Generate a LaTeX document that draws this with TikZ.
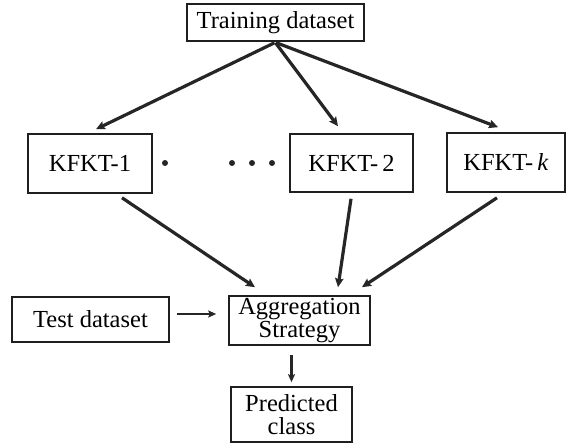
\documentclass[tikz,border=0pt]{standalone}
\usepackage{fontspec}
\setmainfont{Liberation Serif}
\usetikzlibrary{arrows.meta,calc}
\begin{document}
\begin{tikzpicture}[x=1pt,y=-1pt,
  box/.style={draw=black!88, line width=1.6pt, inner sep=0pt, align=center,
    font=\fontsize{24.5}{22.5}\selectfont},
  arr/.style={draw=black!85, line width=3.2pt,
    -{Stealth[length=9pt,width=8.5pt,inset=1.5pt]}},
  thinarr/.style={draw=black!85, line width=1.9pt,
    -{Stealth[length=8pt,width=7pt,inset=1.5pt]}},
  dotmark/.style={circle, fill=black!85, inner sep=0pt, minimum size=6pt}]
\useasboundingbox (0,0) rectangle (568,443);

% boxes
\node[box, minimum width=177, minimum height=37] (tr) at (275.5,22.5) {Training dataset};
\node[box, minimum width=124, minimum height=59] (k1) at (90,163.5) {KFKT-1};
\node[box, minimum width=123, minimum height=58] (k2) at (351.5,163) {KFKT-\,2};
\node[box, minimum width=118, minimum height=59] (kk) at (506,162.5) {KFKT-\,\textit{k}};
\node[box, minimum width=157, minimum height=45] (test) at (90.5,319.5) {Test dataset};
\node[box, minimum width=141, minimum height=49] (ag) at (299.5,320.5) {Aggregation\\Strategy};
\node[box, minimum width=121, minimum height=55] (pred) at (291.5,414.5) {Predicted\\class};

% ellipsis between the classifiers
\node[dotmark] (d0) at (165,163) {};
\node[dotmark] (d1) at (232,163) {};
\node[dotmark] (d2) at (252,163) {};
\node[dotmark] (d3) at (272,163) {};

% training data to each classifier
\draw[arr] ($(tr.south)+(-1,1)$) -- ($(k1.north)+(6,-4)$);
\draw[arr] ($(tr.south)+(0,1)$) -- ($(k2.north)+(-13.5,-7)$);
\draw[arr] ($(tr.south)+(1,1)$) -- ($(kk.north)+(-8,-5)$);

% classifiers to aggregation
\draw[arr] ($(k1.south)+(32,4)$) -- ($(ag.north)+(-44.5,-8)$);
\draw[arr] ($(k2.south)+(-0.5,6)$) -- ($(ag.north)+(38.5,-8)$);
\draw[arr] ($(kk.south)+(-9,5)$) -- ($(ag.north)+(62.5,-8)$);

% test data and final prediction
\draw[thinarr] ($(test.east)+(7,-5.5)$) -- ($(ag.west)+(-12,-6.5)$);
\draw[thinarr, line width=2.4pt] ($(ag.south)+(-8,9)$) -- ($(pred.north)+(0,-4)$);
\end{tikzpicture}
\end{document}
